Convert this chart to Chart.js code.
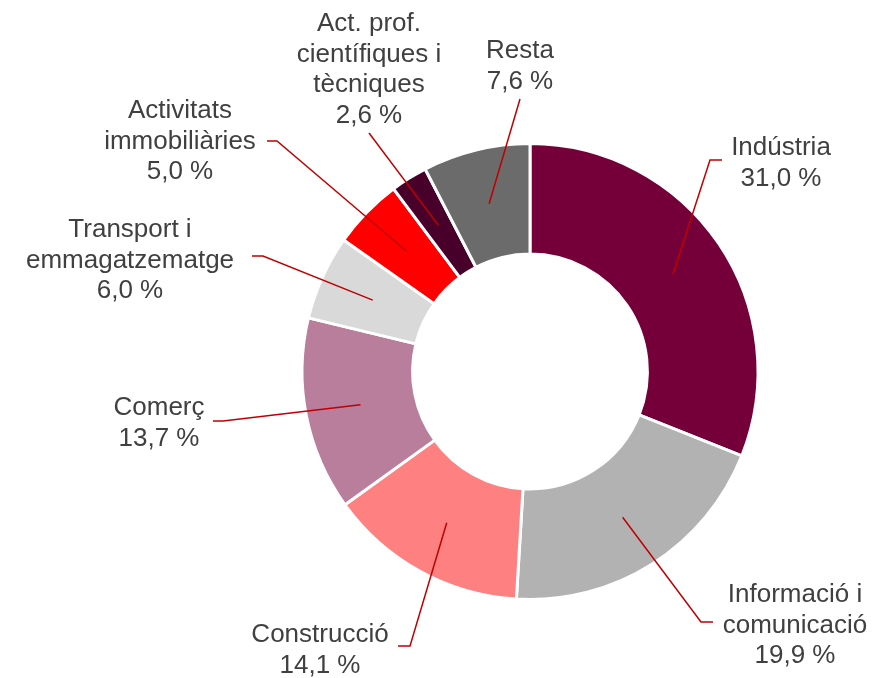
<!DOCTYPE html>
<html>
<head>
<meta charset="utf-8">
<script src="https://cdn.jsdelivr.net/npm/chart.js@4/dist/chart.umd.min.js"></script>
<style>
  html, body { margin: 0; padding: 0; background: #fff; }
  #wrap { width: 884px; height: 678px; position: relative; }
</style>
</head>
<body>
<div id="wrap"><canvas id="pieChart"></canvas></div>
<script>
// Dades (percentatges)
const categories = [
    ['Indústria'],
    ['Informació i', 'comunicació'],
    ['Construcció'],
    ['Comerç'],
    ['Transport i', 'emmagatzematge'],
    ['Activitats', 'immobiliàries'],
    ['Act. prof.', 'científiques i', 'tècniques'],
    ['Resta']
];
const values = [31.0, 19.9, 14.1, 13.7, 6.0, 5.0, 2.6, 7.6];
const colors = ['#750039', '#B2B2B2', '#FF8080', '#B87E9C', '#D9D9D9', '#FF0000', '#48002A', '#6B6B6B'];

// Posició de les etiquetes: centre del text, primera línia base, colze i final de la línia guia
const labelLayout = [
    { x: 781, y: 155, elbow: [710, 160], end: [722, 160] },
    { x: 795, y: 602, elbow: [701, 622], end: [713, 622] },
    { x: 320, y: 642, elbow: [410, 646], end: [398, 646] },
    { x: 159, y: 415, elbow: [223, 421], end: [213, 421] },
    { x: 130, y: 237, elbow: [263, 256], end: [252, 256] },
    { x: 180, y: 118, elbow: [277, 141], end: [267, 141] },
    { x: 369, y: 31,  elbow: [369, 133], end: [369, 133] },
    { x: 520, y: 58,  elbow: [520, 99],  end: [520, 99] }
];

const fmt = v => v.toFixed(1).replace('.', ',') + ' %';

const labelsPlugin = {
    id: 'outLabels',
    afterDraw(chart) {
        const ctx = chart.ctx;
        const arcs = chart.getDatasetMeta(0).data;
        ctx.save();
        // línies guia
        ctx.strokeStyle = '#C00000';
        ctx.lineWidth = 1.5;
        arcs.forEach((arc, i) => {
            const p = arc.tooltipPosition();
            const l = labelLayout[i];
            ctx.beginPath();
            ctx.moveTo(p.x, p.y);
            ctx.lineTo(l.elbow[0], l.elbow[1]);
            ctx.lineTo(l.end[0], l.end[1]);
            ctx.stroke();
        });
        // textos
        ctx.fillStyle = '#404040';
        ctx.font = '26px "Liberation Sans", Arial, sans-serif';
        ctx.textAlign = 'center';
        ctx.textBaseline = 'alphabetic';
        categories.forEach((lines, i) => {
            const l = labelLayout[i];
            const all = lines.concat([fmt(values[i])]);
            all.forEach((t, k) => ctx.fillText(t, l.x, l.y + k * 30.5));
        });
        ctx.restore();
    }
};

const ctx = document.getElementById('pieChart').getContext('2d');
new Chart(ctx, {
    type: 'doughnut',
    data: {
        labels: categories,
        datasets: [{
            data: values,
            backgroundColor: colors,
            borderColor: '#FFFFFF',
            borderWidth: 3
        }]
    },
    options: {
        responsive: true,
        maintainAspectRatio: false,
        animation: false,
        radius: 228,
        cutout: '51.5%',
        layout: { padding: { top: 100, bottom: 35, left: 200, right: 24 } },
        plugins: { legend: { display: false }, tooltip: { enabled: false } }
    },
    plugins: [labelsPlugin]
});
</script>
</body>
</html>
